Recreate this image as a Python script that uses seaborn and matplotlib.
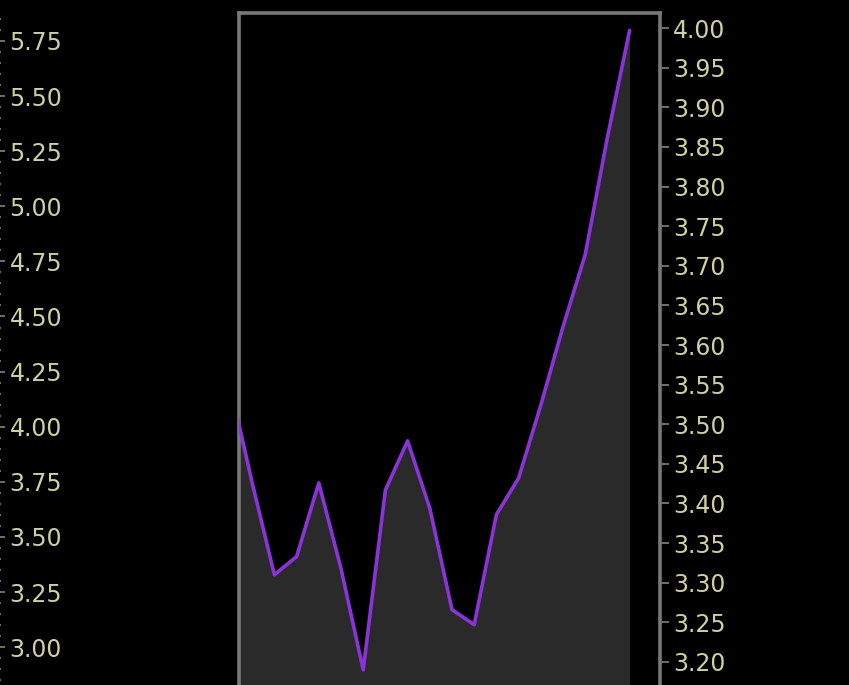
import numpy as np
import pandas as pd
import matplotlib
matplotlib.use('Agg')
import matplotlib.pyplot as plt
from matplotlib.ticker import MultipleLocator, FormatStrFormatter
import seaborn as sns

# Data (period index, value on right axis)
periods = list(range(19))
values = [3.55, 3.426, 3.310, 3.333, 3.426, 3.318, 3.190, 3.417, 3.479, 3.394,
          3.266, 3.247, 3.386, 3.432, 3.524, 3.623, 3.714, 3.862, 3.997]

# Axis ranges / ticks
main_ylim = (3.152, 4.019)
main_ticks = [3.20, 3.25, 3.30, 3.35, 3.40, 3.45, 3.50, 3.55, 3.60, 3.65,
              3.70, 3.75, 3.80, 3.85, 3.90, 3.95, 4.00]
left_ylim = (2.760, 5.877)
left_ticks = [3.00, 3.25, 3.50, 3.75, 4.00, 4.25, 4.50, 4.75, 5.00, 5.25, 5.50, 5.75]

df = pd.DataFrame({'period': periods, 'value': values})

sns.set_theme(style='dark', rc={
    'axes.facecolor': 'black',
    'figure.facecolor': 'black',
    'axes.grid': False,
})
plt.rcParams['font.family'] = ['DejaVu Sans']

label_color = '#CFCFA2'
frame_color = '#787878'
line_color = '#8A33D8'

fig = plt.figure(figsize=(8.49, 6.85), dpi=100)
W, H = 849, 685

# main panel (cropped: bottom runs off the figure)
top_px, bot_px = 13, 700
ax = fig.add_axes([239 / W, 1 - bot_px / H, (660 - 239) / W, (bot_px - top_px) / H])
ax.set_facecolor('black')

ax.fill_between(df['period'], df['value'], main_ylim[0], color='#2A2A2A', lw=0, zorder=1)
sns.lineplot(data=df, x='period', y='value', ax=ax, color=line_color, lw=2.6, zorder=3)

ax.set_xlim((239 - 230) / 22.2, (660 - 230) / 22.2)
ax.set_ylim(*main_ylim)
ax.set_xlabel('')
ax.set_ylabel('')
ax.set_xticks([])
ax.yaxis.tick_right()
ax.set_yticks(main_ticks)
ax.yaxis.set_major_formatter(FormatStrFormatter('%.2f'))
ax.tick_params(axis='y', colors=frame_color, labelcolor=label_color, length=6.5,
               width=1.3, pad=3, labelsize=17, right=True, left=False)
for side in ['left', 'right', 'top']:
    ax.spines[side].set_visible(True)
    ax.spines[side].set_color(frame_color)
    ax.spines[side].set_linewidth(2.6)
    ax.spines[side].set_capstyle('projecting')
ax.spines['bottom'].set_visible(False)

# left neighbour panel, only its right-hand axis is visible
lax = fig.add_axes([-0.3, 1 - bot_px / H, 0.3 - 1 / W, (bot_px - top_px) / H])
lax.set_facecolor('black')
lax.set_ylim(*left_ylim)
lax.set_xticks([])
lax.yaxis.tick_right()
lax.set_yticks(left_ticks)
lax.yaxis.set_minor_locator(MultipleLocator(0.05))
lax.yaxis.set_major_formatter(FormatStrFormatter('%.2f'))
lax.tick_params(axis='y', which='major', colors=frame_color, labelcolor=label_color,
                length=4.5, width=1.3, pad=3, labelsize=17)
lax.tick_params(axis='y', which='minor', colors=frame_color, length=1.6, width=1.3)
for s in lax.spines.values():
    s.set_visible(False)

plt.savefig('out.png', dpi=100, facecolor='black')
plt.close()
